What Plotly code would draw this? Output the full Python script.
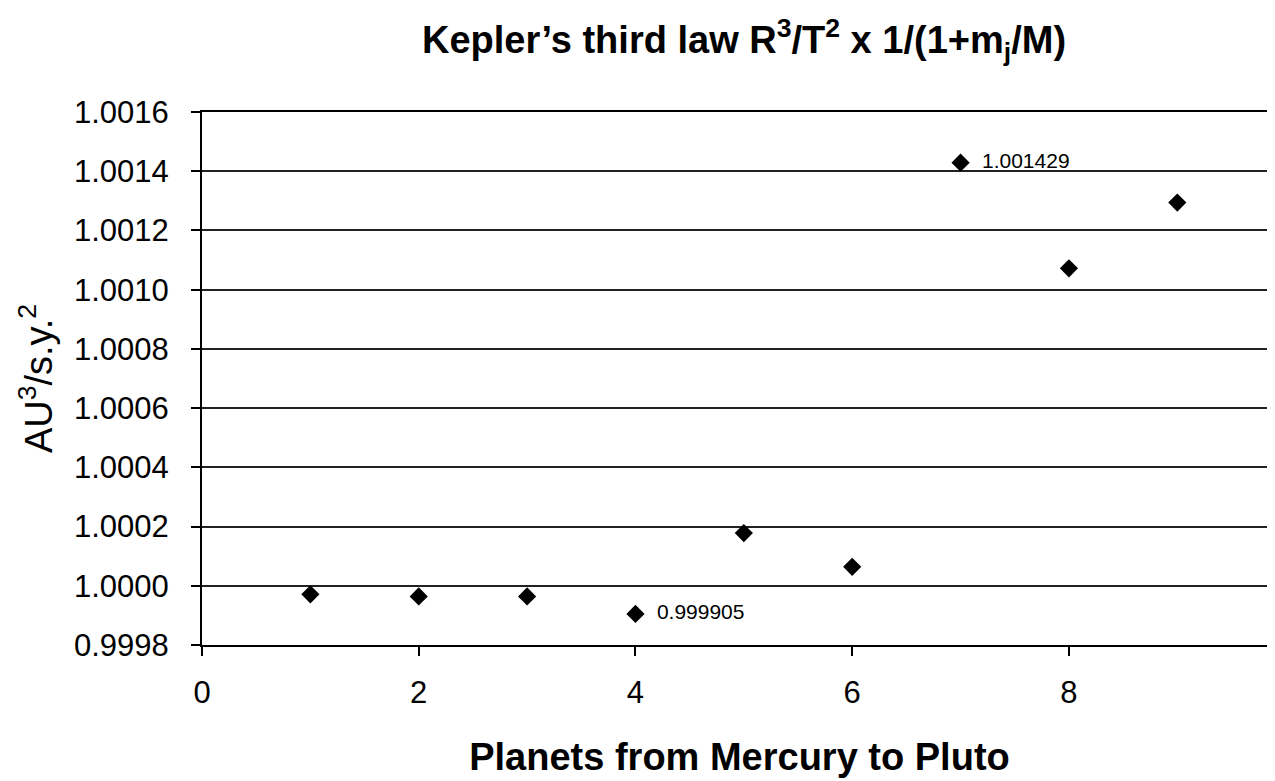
import plotly.graph_objects as go

planets = [1, 2, 3, 4, 5, 6, 7, 8, 9]
values = [0.999971, 0.999964, 0.999964, 0.999905, 1.000178, 1.000064, 1.001429, 1.001072, 1.001294]
point_labels = ["", "", "", "0.999905", "", "", "1.001429", "", ""]

title_text = "Kepler\u2019s third law R<sup>3</sup>/T<sup>2</sup> x 1/(1+m<sub>j</sub>/M)"
x_title = "Planets from Mercury to Pluto"
y_title = "AU<sup>3</sup>/s.y.<sup>2</sup>"

font_family = "Liberation Sans, Arial, sans-serif"

fig = go.Figure()
fig.add_trace(go.Scatter(
    x=planets, y=values,
    mode="markers+text",
    text=["  " + t if t else "" for t in point_labels],
    textposition="middle right",
    textfont=dict(size=21, color="black", family=font_family),
    marker=dict(symbol="diamond", size=14, color="black"),
    showlegend=False,
    cliponaxis=False,
))

fig.update_layout(
    width=1275, height=781,
    paper_bgcolor="white", plot_bgcolor="white",
    margin=dict(l=194, r=4, t=104, b=144),
    font=dict(family=font_family, color="black"),
    title=dict(text="<b>" + title_text + "</b>", x=736/1275, xanchor="center",
               y=1 - 32/781, yanchor="middle",
               font=dict(size=38, family=font_family, color="black")),
    xaxis=dict(
        range=[0, 9.92], tickmode="array", tickvals=[0, 2, 4, 6, 8],
        showgrid=False, zeroline=False,
        showline=True, linecolor="black", linewidth=2, mirror=True,
        ticks="outside", ticklen=9, tickwidth=2, tickcolor="black",
        tickfont=dict(size=31, family=font_family, color="black"),
        ticklabelstandoff=10,
        title=dict(text="<b>" + x_title + "</b>", font=dict(size=38, family=font_family, color="black"),
                   standoff=34),
    ),
    yaxis=dict(
        range=[0.9998, 1.0016], tickvals=[0.9998 + 0.0002 * i for i in range(10)],
        tickformat=".4f",
        showgrid=True, gridcolor="#222222", gridwidth=2, zeroline=False,
        showline=True, linecolor="black", linewidth=2, mirror=True,
        ticks="outside", ticklen=9, tickwidth=2, tickcolor="black",
        tickfont=dict(size=31, family=font_family, color="black"),
        ticklabelstandoff=16,
        title=dict(text=y_title, font=dict(size=38, family=font_family, color="black"),
                   standoff=10),
    ),
)

fig.write_html("out.html")
